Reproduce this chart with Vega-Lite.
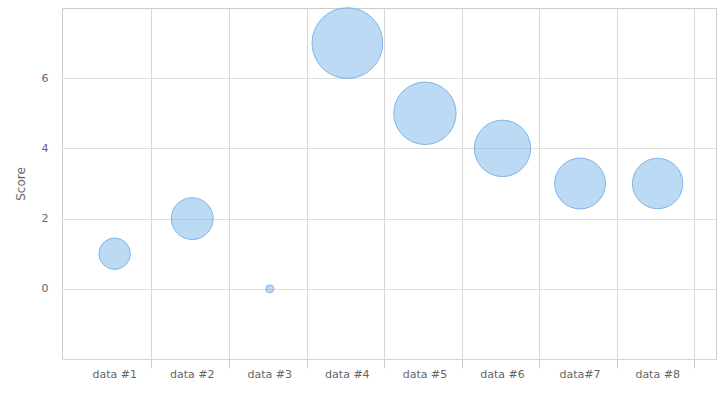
{
  "$schema": "https://vega.github.io/schema/vega-lite/v6.json",
  "width": 654,
  "height": 351,
  "autosize": {"type": "none"},
  "padding": {"left": 62, "top": 8, "right": 5, "bottom": 39},
  "background": "#ffffff",
  "config": {
    "font": "DejaVu Sans",
    "view": {"stroke": "#cccccc", "strokeWidth": 1}
  },
  "data": {
    "values": [
      {"category": "data #1", "score": 1, "z": 250},
      {"category": "data #2", "score": 2, "z": 440},
      {"category": "data #3", "score": 0, "z": 16},
      {"category": "data #4", "score": 7, "z": 1260},
      {"category": "data #5", "score": 5, "z": 980},
      {"category": "data #6", "score": 4, "z": 800},
      {"category": "data#7", "score": 3, "z": 650},
      {"category": "data #8", "score": 3, "z": 640}
    ]
  },
  "mark": {"type": "circle", "fill": "#7cb5ec", "fillOpacity": 0.5, "stroke": "#7cb5ec", "strokeWidth": 1, "opacity": 1, "xOffset": 1.5},
  "encoding": {
    "x": {
      "field": "category",
      "type": "nominal",
      "sort": null,
      "scale": {"type": "band", "paddingInner": 0, "paddingOuter": 0.2155, "align": 0.37},
      "axis": {
        "title": null,
        "labelAngle": 0,
        "bandPosition": 1,
        "labelOffset": 1.5,
        "grid": true,
        "gridColor": "#d8d8d8",
        "gridWidth": 1,
        "domainColor": "#ccd6eb",
        "ticks": true,
        "tickColor": "#c0cce0",
        "tickWidth": 1,
        "tickOpacity": 1,
        "tickSize": 9,
        "labelPadding": 0,
        "labelColor": "#666666",
        "labelFontSize": 11
      }
    },
    "y": {
      "field": "score",
      "type": "quantitative",
      "scale": {"domain": [-2, 8], "nice": false, "zero": false},
      "axis": {
        "title": "Score",
        "titleColor": "#666666",
        "titleFontSize": 12,
        "titleFontWeight": "normal",
        "titlePadding": 14,
        "values": [0, 2, 4, 6],
        "grid": true,
        "gridColor": "#dddddd",
        "domain": false,
        "ticks": false,
        "labelPadding": 14,
        "labelColor": "#666666",
        "labelFontSize": 11
      }
    },
    "size": {
      "field": "z",
      "type": "quantitative",
      "scale": {"domain": [0, 1260], "range": [0, 5000], "zero": true},
      "legend": null
    }
  }
}
